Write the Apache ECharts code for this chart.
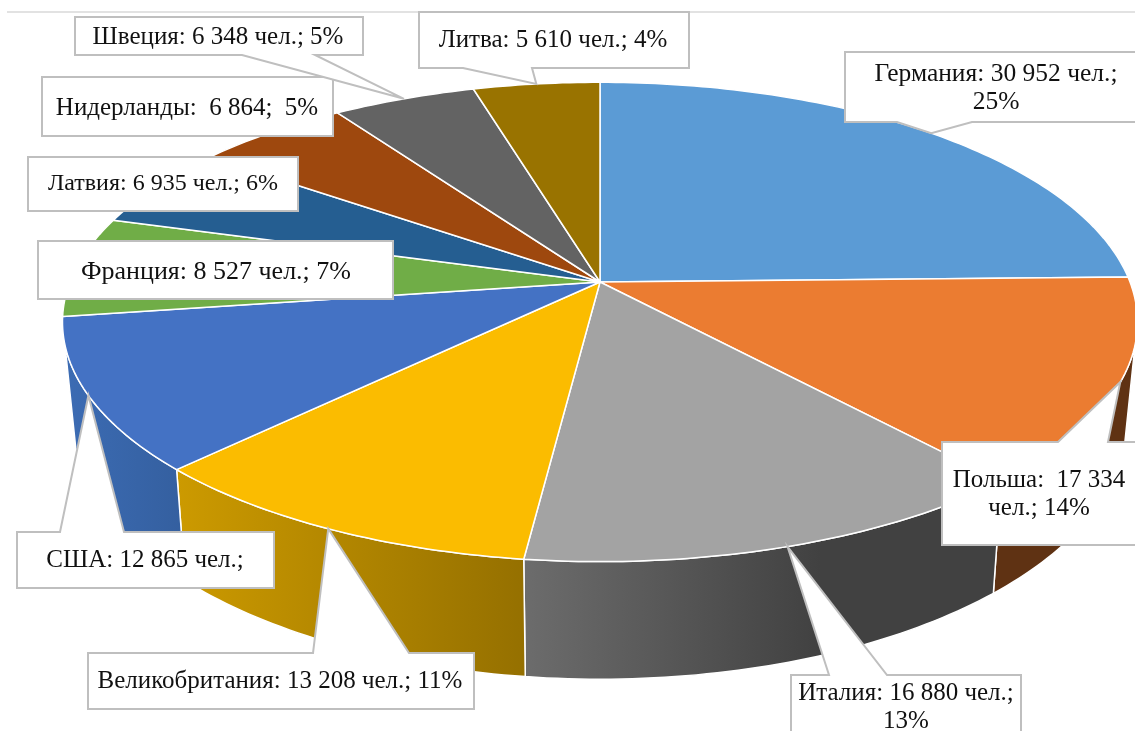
<!DOCTYPE html>
<html>
<head>
<meta charset="utf-8">
<style>html,body{margin:0;padding:0;background:#fff;overflow:hidden}#chart{width:1135px;height:731px}</style>
<script src="https://cdn.jsdelivr.net/npm/echarts@6/dist/echarts.min.js"></script>
</head>
<body>
<div id="chart"></div>
<script>
// ---- data ----
const categories = ['Германия','Польша','Италия','Великобритания','США','Франция','Латвия','Нидерланды','Швеция','Литва'];
const peopleCounts = [30952,17334,16880,13208,12865,8527,6935,6864,6348,5610];
const labelTexts = [
  'Германия: 30 952 чел.;\n25%',
  'Польша:  17 334\nчел.; 14%',
  'Италия: 16 880 чел.;\n13%',
  'Великобритания: 13 208 чел.; 11%',
  'США: 12 865 чел.;',
  'Франция: 8 527 чел.; 7%',
  'Латвия: 6 935 чел.; 6%',
  'Нидерланды:  6 864;  5%',
  'Швеция: 6 348 чел.; 5%',
  'Литва: 5 610 чел.; 4%'
];

// ---- styles ----
const topColors = ['#5b9bd5','#eb7c31','#a3a3a3','#fbbc00','#4472c4','#70ad47','#255e91','#9e480e','#636363','#997300'];
const wallStops = [
  null,
  [[1000,'#5f3213'],[1135,'#5f3213']],
  [[525,'#6c6c6c'],[820,'#414141'],[1000,'#414141']],
  [[177,'#cc9a00'],[525,'#957000']],
  [[62,'#3c6cb4'],[185,'#345f9f']],
  null,null,null,null,null
];
// ---- layout of the callouts: [left, top, right, bottom, textX, textY, fontSize, baseA, baseB, side]
const calloutLayout = [
  [845,52,1160,122,996,88,25.5,897,972,'bottom'],
  [942,442,1160,545,1039,494,25,1058,1108,'top'],
  [791,675,1021,745,906,707,25,829,887,'top'],
  [88,653,474,709,280,681,25,313,409,'top'],
  [17,532,274,588,145,560,25,60,124,'top'],
  [38,241,393,299,216,272,26,null,null,''],
  [28,157,298,211,163,184,24,null,null,''],
  [42,77,333,136,187,108,25,null,null,''],
  [75,17,363,55,218,37,25,242,315,'bottom'],
  [419,12,689,68,553,40,25,463,532,'bottom']
];

// ---- projection of the tilted pie ----
const CX = 600, CY = 282, A = 530, B = 233, K = 1/6, DEPTH = 98, SHRINK = 0.98;
const WALL_FROM = 105, WALL_TO = 255;
const total = peopleCounts.reduce((a,b)=>a+b,0);
const rad = d => d*Math.PI/180;
function rim(deg){
  const u = Math.sin(rad(deg)), v = Math.cos(rad(deg)), w = 1+K*v;
  return [CX+A*u/w, CY-B*v/w];
}
function rimLow(deg){
  const u = Math.sin(rad(deg)), v = Math.cos(rad(deg)), w = 1+K*v;
  return [CX+A*SHRINK*u/w, CY+(DEPTH-B*v)/w];
}
function arc(fn,a,b){
  const n = Math.max(2,Math.ceil(Math.abs(b-a)));
  const out=[];
  for(let i=0;i<=n;i++) out.push(fn(a+(b-a)*i/n));
  return out;
}
function span(index){
  let before=0;
  for(let i=0;i<index;i++) before+=peopleCounts[i];
  return [before/total*360,(before+peopleCounts[index])/total*360];
}
function gradient(stops){
  const x0=stops[0][0],x1=stops[stops.length-1][0];
  return new echarts.graphic.LinearGradient(x0,0,x1,0,
    stops.map(s=>({offset:(s[0]-x0)/(x1-x0),color:s[1]})),true);
}

function renderWall(params,api){
  const i=params.dataIndex;
  const s=span(i);
  const a=Math.max(s[0],WALL_FROM), b=Math.min(s[1],WALL_TO);
  if(a>=b||!wallStops[i]) return null;
  const pts=arc(rim,a,b).concat(arc(rimLow,b,a));
  return {type:'polygon',shape:{points:pts},
    style:{fill:gradient(wallStops[i]),stroke:'#ffffff',lineWidth:1.5}};
}
function renderTop(params,api){
  const i=params.dataIndex;
  const s=span(i);
  const pts=[[CX,CY]].concat(arc(rim,s[0],s[1]));
  return {type:'polygon',shape:{points:pts},
    style:{fill:topColors[i],stroke:'#ffffff',lineWidth:1.5,lineJoin:'round'}};
}
function renderCallout(params,api){
  const i=params.dataIndex;
  const L=calloutLayout[i];
  const s=span(i);
  const tip=rim((s[0]+s[1])/2);
  const [l,t,r,b,tx,ty,fs,ba,bb,side]=L;
  let pts;
  if(side==='top') pts=[[l,t],[ba,t],tip,[bb,t],[r,t],[r,b],[l,b]];
  else if(side==='bottom') pts=[[l,t],[r,t],[r,b],[bb,b],tip,[ba,b],[l,b]];
  else pts=[[l,t],[r,t],[r,b],[l,b]];
  return {type:'group',children:[
    {type:'polygon',shape:{points:pts},style:{fill:'#ffffff',stroke:'#bfbfbf',lineWidth:2,lineJoin:'miter'}},
    {type:'text',x:tx,y:ty,style:{text:labelTexts[i],fill:'#111111',
      font:fs+'px "Liberation Serif"',align:'center',verticalAlign:'middle',lineHeight:28}}
  ]};
}

const seriesData = categories.map((name,i)=>({name,value:peopleCounts[i]}));
const chart = echarts.init(document.getElementById('chart'),null,{renderer:'canvas'});
chart.setOption({
  animation:false,
  backgroundColor:'#ffffff',
  graphic:[{type:'line',shape:{x1:7,y1:12,x2:1135,y2:12},style:{stroke:'#d9d9d9',lineWidth:1.5},z:0}],
  series:[
    {type:'custom',coordinateSystem:'none',renderItem:renderWall,data:seriesData,z:1,silent:true},
    {type:'custom',coordinateSystem:'none',renderItem:renderTop,data:seriesData,z:2,silent:true},
    {type:'custom',coordinateSystem:'none',renderItem:renderCallout,data:seriesData,z:3,silent:true}
  ]
});
</script>
</body>
</html>
